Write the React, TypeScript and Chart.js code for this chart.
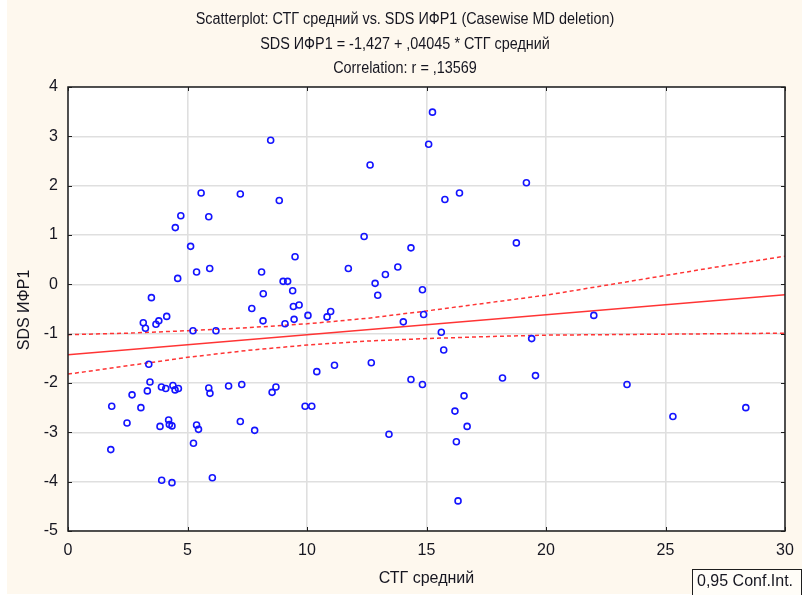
import React, { useEffect, useRef } from "react";
import { Chart, registerables } from "chart.js";

Chart.register(...registerables);

// СТГ средний (x) and SDS ИФР1 (y) for each case
const stgValues = [
  8.48, 5.57, 7.21, 8.84, 4.72, 5.89, 4.49, 5.13, 9.5, 5.93, 5.38, 8.1, 4.59, 9.0, 9.19, 9.4, 8.17, 3.49, 9.43, 9.67,
  7.69, 10.04, 3.15, 3.24, 3.68, 3.8, 4.13, 8.16, 9.08, 9.46, 5.23, 6.19, 3.38, 1.83, 2.68, 3.05, 3.32, 3.43, 3.91, 4.09,
  4.39, 4.48, 4.62, 5.89, 5.94, 6.72, 7.27, 8.54, 8.7, 9.92, 10.2, 2.47, 3.85, 4.21, 4.24, 4.35, 5.38, 5.46, 7.21, 7.81,
  1.79, 5.25, 3.92, 4.35, 6.04, 15.25, 15.09, 12.64, 19.18, 15.77, 16.38, 12.39, 18.76, 14.35, 11.73, 13.8, 13.28, 12.85, 12.96, 14.83,
  10.84, 10.99, 14.88, 14.03, 15.62, 15.72, 19.4, 10.41, 11.15, 12.69, 14.35, 14.83, 18.18, 19.56, 16.57, 16.19, 16.7, 16.25, 13.43, 16.32,
  22.0, 23.39, 25.31, 28.36,
];
const sdsValues = [
  2.92, 1.85, 1.83, 1.7, 1.39, 1.37, 1.15, 0.77, 0.56, 0.32, 0.25, 0.25, 0.12, 0.06, 0.06, -0.13, -0.19, -0.27, -0.45, -0.42,
  -0.49, -0.63, -0.78, -0.89, -0.81, -0.74, -0.65, -0.74, -0.8, -0.71, -0.94, -0.94, -1.62, -2.47, -2.24, -2.5, -2.16, -1.98, -2.08, -2.11,
  -2.05, -2.14, -2.11, -2.1, -2.21, -2.06, -2.03, -2.19, -2.08, -2.47, -2.47, -2.81, -2.88, -2.75, -2.84, -2.87, -2.85, -2.94, -2.78, -2.96,
  -3.35, -3.22, -3.97, -4.02, -3.92, 3.49, 2.84, 2.42, 2.06, 1.72, 1.85, 0.97, 0.84, 0.74, 0.32, 0.35, 0.2, 0.02, -0.22, -0.11,
  -0.66, -0.55, -0.61, -0.76, -0.97, -1.33, -1.1, -1.77, -1.64, -1.59, -1.93, -2.03, -1.9, -1.85, -2.26, -2.57, -2.88, -3.19, -3.04, -4.39,
  -0.63, -2.03, -2.68, -2.5,
];

// Fitted line: SDS ИФР1 = -1,427 + ,04045 * СТГ средний
const INTERCEPT = -1.427;
const SLOPE = 0.04045;

// 0,95 confidence band for the fitted line
const bandX = [0, 2.5, 5, 7.5, 10, 12.5, 15, 17.5, 20, 22.5, 25, 27.5, 30];
const bandUpper = [-1.02, -0.99, -0.94, -0.88, -0.8, -0.69, -0.54, -0.38, -0.22, -0.02, 0.18, 0.38, 0.57];
const bandLower = [-1.82, -1.65, -1.48, -1.34, -1.23, -1.15, -1.1, -1.06, -1.03, -1.02, -1.01, -1.0, -0.99];

const X_TICKS = [0, 5, 10, 15, 20, 25, 30];
const Y_TICKS = [-5, -4, -3, -2, -1, 0, 1, 2, 3, 4];

const TITLE_LINES = [
  "Scatterplot: СТГ средний vs. SDS ИФР1 (Casewise MD deletion)",
  "SDS ИФР1 = -1,427 + ,04045 * СТГ средний",
  "Correlation: r = ,13569",
];
const X_TITLE = "СТГ средний";
const Y_TITLE = "SDS ИФР1";
const BAND_LABEL = "0,95 Conf.Int.";

const FONT = "'Liberation Sans', Arial, sans-serif";
const NARROW_FONT = "'Liberation Sans Narrow', 'Arial Narrow', 'Liberation Sans', Arial, sans-serif";
const CREAM = "#fef8ee";
const TEXT = "#161620";
const RED = "#ff3434";

// draws text horizontally condensed (title style)
function condensedText(ctx: CanvasRenderingContext2D, text: string, x: number, y: number, squeeze: number) {
  ctx.save();
  ctx.translate(x, y);
  ctx.scale(squeeze, 1);
  ctx.fillText(text, 0, 0);
  ctx.restore();
}

const decorPlugin = {
  id: "decor",
  beforeDraw(chart: any) {
    const { ctx, chartArea: a } = chart;
    ctx.save();
    ctx.fillStyle = "#ffffff";
    ctx.fillRect(0, 0, chart.width, chart.height);
    ctx.fillStyle = CREAM;
    ctx.fillRect(7, 0, 795, 594);
    ctx.fillStyle = "#ffffff";
    ctx.fillRect(a.left, a.top, a.right - a.left, a.bottom - a.top);
    ctx.restore();
  },
  afterDraw(chart: any) {
    const { ctx, chartArea: a, scales } = chart;
    ctx.save();
    // frame
    ctx.strokeStyle = "#1e1e1e";
    ctx.lineWidth = 1.5;
    ctx.strokeRect(a.left, a.top, a.right - a.left, a.bottom - a.top);
    // inner tick marks
    ctx.lineWidth = 1;
    ctx.beginPath();
    for (const v of Y_TICKS) {
      const y = Math.round(scales.y.getPixelForValue(v)) + 0.5;
      ctx.moveTo(a.left, y);
      ctx.lineTo(a.left + 4, y);
      ctx.moveTo(a.right, y);
      ctx.lineTo(a.right - 4, y);
    }
    for (const v of X_TICKS) {
      const x = Math.round(scales.x.getPixelForValue(v)) + 0.5;
      ctx.moveTo(x, a.bottom);
      ctx.lineTo(x, a.bottom - 4);
      ctx.moveTo(x, a.top);
      ctx.lineTo(x, a.top + 4);
    }
    ctx.stroke();

    // titles
    ctx.fillStyle = TEXT;
    ctx.font = `16px ${FONT}`;
    ctx.textAlign = "center";
    ctx.textBaseline = "middle";
    const cx = 405;
    TITLE_LINES.forEach((t, i) => condensedText(ctx, t, cx, 20 + i * 24.5, 0.9));

    // axis titles
    ctx.fillText(X_TITLE, (a.left + a.right) / 2, 579);
    ctx.save();
    ctx.translate(25, 310);
    ctx.rotate(-Math.PI / 2);
    ctx.fillText(Y_TITLE, 0, 0);
    ctx.restore();

    // confidence band label box
    ctx.fillStyle = "#fffdf8";
    ctx.fillRect(692, 569, 110, 26);
    ctx.strokeStyle = "#1e1e1e";
    ctx.lineWidth = 1;
    ctx.strokeRect(692.5, 569.5, 109, 26);
    ctx.fillStyle = TEXT;
    ctx.textAlign = "left";
    ctx.fillText(BAND_LABEL, 697, 582);
    ctx.restore();
  },
};

export default function App() {
  const ref = useRef<HTMLCanvasElement | null>(null);

  useEffect(() => {
    if (!ref.current) return;
    const points = stgValues.map((x, i) => ({ x, y: sdsValues[i] }));
    const fitted = [0, 30].map((x) => ({ x, y: INTERCEPT + SLOPE * x }));
    const upper = bandX.map((x, i) => ({ x, y: bandUpper[i] }));
    const lower = bandX.map((x, i) => ({ x, y: bandLower[i] }));

    const chart = new Chart(ref.current, {
      type: "scatter",
      data: {
        datasets: [
          {
            label: "cases",
            data: points,
            pointRadius: 3,
            pointBorderWidth: 1.6,
            borderColor: "#1414ff",
            backgroundColor: "rgba(0,0,0,0)",
            showLine: false,
          },
          {
            label: "fit",
            data: fitted,
            showLine: true,
            pointRadius: 0,
            borderColor: RED,
            borderWidth: 1.5,
          },
          {
            label: "upper",
            data: upper,
            showLine: true,
            pointRadius: 0,
            borderColor: RED,
            borderWidth: 1.5,
            borderDash: [4, 3],
          },
          {
            label: "lower",
            data: lower,
            showLine: true,
            pointRadius: 0,
            borderColor: RED,
            borderWidth: 1.5,
            borderDash: [4, 3],
          },
        ],
      },
      options: {
        responsive: false,
        animation: false,
        events: [],
        layout: { padding: { top: 87, right: 25, bottom: 0, left: 0 } },
        plugins: {
          legend: { display: false },
          title: { display: false },
          tooltip: { enabled: false },
        },
        scales: {
          x: {
            type: "linear",
            min: 0,
            max: 30,
            afterFit: (s: any) => {
              s.height = 64;
            },
            afterBuildTicks: (s: any) => {
              s.ticks = X_TICKS.map((v) => ({ value: v }));
            },
            ticks: {
              padding: 10,
              color: TEXT,
              font: { family: FONT, size: 16 },
              maxRotation: 0,
            },
            grid: { color: "#dfdfdf", lineWidth: 1.6, drawTicks: false },
            border: { display: false },
          },
          y: {
            type: "linear",
            min: -5,
            max: 4,
            afterFit: (s: any) => {
              s.width = 68;
            },
            afterBuildTicks: (s: any) => {
              s.ticks = Y_TICKS.map((v) => ({ value: v }));
            },
            ticks: {
              padding: 10,
              color: TEXT,
              font: { family: FONT, size: 16 },
            },
            grid: { color: "#dfdfdf", lineWidth: 1.6, drawTicks: false },
            border: { display: false },
          },
        },
      },
      plugins: [decorPlugin],
    });
    return () => chart.destroy();
  }, []);

  return (
    <div style={{ position: "fixed", left: 0, top: 0, width: 810, height: 595, background: "#fff" }}>
      <canvas ref={ref} width={810} height={595} style={{ display: "block", width: 810, height: 595 }} />
    </div>
  );
}
